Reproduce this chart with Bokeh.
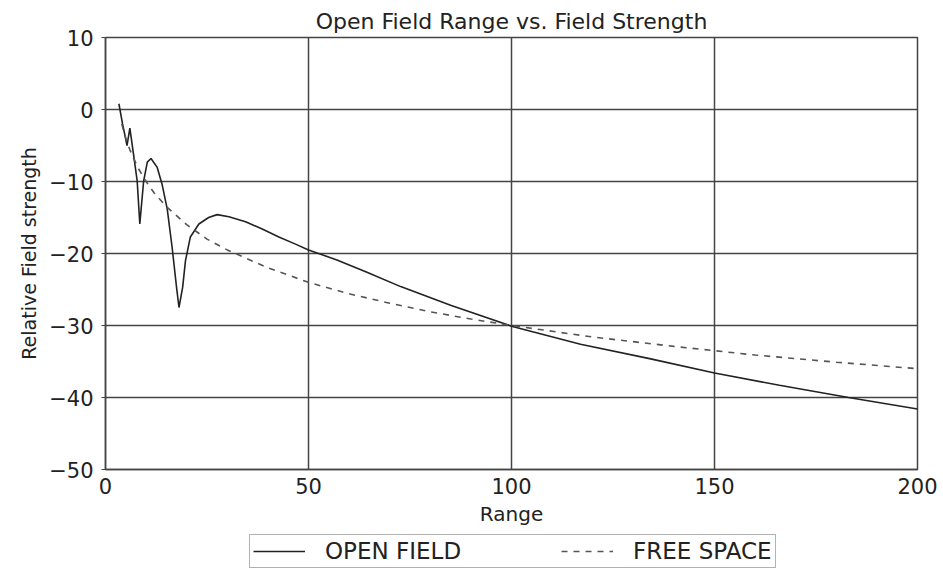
from bokeh.plotting import figure
from bokeh.layouts import column
from bokeh.models import FixedTicker, Legend, LegendItem, Range1d
from bokeh.embed import file_html
from bokeh.resources import INLINE

# Data
open_x = [3.3, 4.2, 5.3, 6.0, 7.0, 7.8, 8.45, 9.4, 10.3, 11.2, 12.7, 13.9, 15.2, 16.4,
          17.5, 18.1, 19.0, 19.7, 20.9, 23.0, 25.4, 27.5, 30.4, 34.5, 38.6, 42.7, 46.8,
          50, 57, 64.4, 72.7, 85, 100, 117, 134, 150, 166, 183, 200]
open_y = [0.8, -2.0, -5.0, -2.6, -6.6, -9.9, -15.9, -9.9, -7.3, -6.8, -8.0, -10.3, -13.8, -19.1,
          -24.7, -27.5, -24.7, -21.0, -17.7, -15.9, -15.0, -14.6, -14.9, -15.6, -16.6, -17.7, -18.7,
          -19.5, -20.9, -22.6, -24.6, -27.2, -30.1, -32.6, -34.6, -36.6, -38.3, -40.0, -41.6]

free_x = [4, 5, 6, 8, 10, 12, 15, 20, 25, 30, 40, 50, 60, 70, 80, 90, 100, 120, 140, 160, 180, 200]
free_y = [-2.0, -4.0, -5.6, -8.1, -10.0, -11.6, -13.5, -16.0, -18.0, -19.5, -22.0, -24.0, -25.6,
          -26.9, -28.1, -29.1, -30.0, -31.6, -32.9, -34.1, -35.1, -36.0]

x_ticks = [0, 50, 100, 150, 200]
y_ticks = [-50, -40, -30, -20, -10, 0, 10]
y_tick_labels = ["\u221250", "\u221240", "\u221230", "\u221220", "\u221210", "0", "10"]
series_names = ["OPEN FIELD", "FREE SPACE"]

FONT = "DejaVu Sans"
GRID = "#444444"
TEXT = "#222222"
OPEN_STYLE = dict(line_color="#222222", line_width=1.6)
FREE_STYLE = dict(line_color="#555555", line_width=1.6, line_dash="6 6")

p = figure(width=943, height=530, output_backend="svg", toolbar_location=None,
           x_range=Range1d(0, 200), y_range=Range1d(-50, 10),
           min_border_left=105, min_border_right=26, min_border_top=37, min_border_bottom=61,
           background_fill_color="white", border_fill_color="white")

p.title.text = "Open Field Range vs. Field Strength"
p.title.align = "center"
p.title.text_font = FONT
p.title.text_font_size = "22px"
p.title.text_font_style = "normal"
p.title.text_color = TEXT
p.title.standoff = 8

p.outline_line_color = GRID
p.outline_line_width = 1.5

p.line(open_x, open_y, **OPEN_STYLE)
p.line(free_x, free_y, **FREE_STYLE)

p.xaxis.ticker = FixedTicker(ticks=x_ticks)
p.yaxis.ticker = FixedTicker(ticks=y_ticks)
p.yaxis.major_label_overrides = {t: l for t, l in zip(y_ticks, y_tick_labels)}

for ax in (p.xaxis[0], p.yaxis[0]):
    ax.axis_line_color = GRID
    ax.axis_line_width = 1.5
    ax.major_label_text_font = FONT
    ax.major_label_text_font_size = "21px"
    ax.major_label_text_color = TEXT
    ax.axis_label_text_font = FONT
    ax.axis_label_text_font_style = "normal"
    ax.axis_label_text_color = TEXT
    ax.minor_tick_line_color = None
    ax.major_tick_in = 0

p.xaxis.major_tick_out = 0
p.xaxis.major_label_standoff = 8
p.xaxis.axis_label = "Range"
p.xaxis.axis_label_text_font_size = "20px"
p.xaxis.axis_label_standoff = 5

p.yaxis.major_tick_out = 4
p.yaxis.major_tick_line_color = GRID
p.yaxis.major_label_standoff = 8
p.yaxis.axis_label = "Relative Field strength"
p.yaxis.axis_label_text_font_size = "19px"
p.yaxis.axis_label_standoff = 6

p.xgrid.ticker = FixedTicker(ticks=x_ticks)
p.ygrid.ticker = FixedTicker(ticks=y_ticks)
for g in (p.xgrid[0], p.ygrid[0]):
    g.grid_line_color = GRID
    g.grid_line_width = 1.5
    g.grid_line_alpha = 1.0

# Legend strip below the chart: same series, drawn outside its (empty) visible range
p2 = figure(width=943, height=39, output_backend="svg", toolbar_location=None,
            x_range=Range1d(-20, -10), y_range=Range1d(-50, 10),
            min_border=0, border_fill_color="white", background_fill_color="white")
p2.axis.visible = False
p2.grid.visible = False
p2.outline_line_color = None
l_open = p2.line(open_x, open_y, **OPEN_STYLE)
l_free = p2.line(free_x, free_y, **FREE_STYLE)

legend = Legend(items=[LegendItem(label=series_names[0], renderers=[l_open]),
                       LegendItem(label=series_names[1], renderers=[l_free])],
                orientation="horizontal", location=(144, 1))
legend.label_text_font = FONT
legend.label_text_font_size = "23px"
legend.label_text_color = TEXT
legend.label_height = 20
legend.glyph_height = 20
legend.border_line_color = "#666666"
legend.border_line_width = 1.5
legend.glyph_width = 52
legend.label_standoff = 20
legend.spacing = 100
legend.padding = 3
legend.margin = 0
legend.background_fill_alpha = 1.0
p2.add_layout(legend, "center")

layout = column(p, p2, spacing=0)
open("out.html", "w").write(file_html(layout, INLINE))
